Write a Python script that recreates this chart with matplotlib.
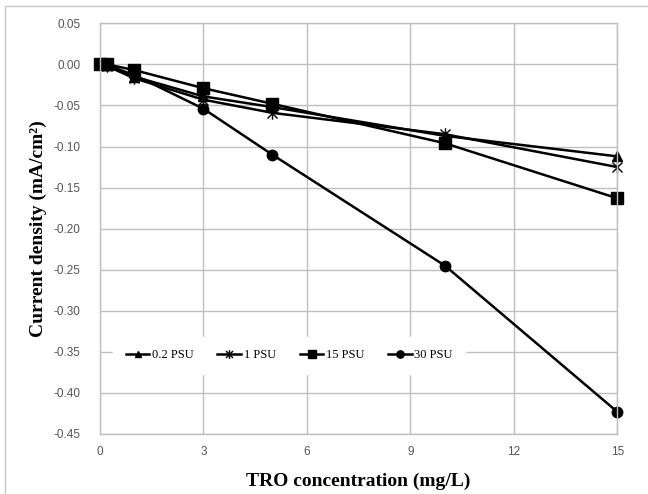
import matplotlib
matplotlib.use("Agg")
from matplotlib import pyplot as plt
from matplotlib.path import Path
from matplotlib.patches import Rectangle

# TRO concentration (mg/L)
tro = [0, 0.2, 1, 3, 5, 10, 15]

# current density (mA/cm2) per salinity
psu_02 = [0, -0.001, -0.015, -0.039, -0.052, -0.087, -0.112]
psu_1 = [0, -0.002, -0.017, -0.043, -0.059, -0.085, -0.125]
psu_15 = [0, 0.0, -0.007, -0.029, -0.048, -0.096, -0.163]
psu_30 = [0, -0.001, -0.013, -0.054, -0.110, -0.245, -0.423]

labels = ["0.2 PSU", "1 PSU", "15 PSU", "30 PSU"]
xticks = [0, 3, 6, 9, 12, 15]
yticks = [0.05, 0.00, -0.05, -0.10, -0.15, -0.20, -0.25, -0.30, -0.35, -0.40, -0.45]

plt.rcParams['font.family'] = ['Liberation Serif', 'DejaVu Serif']

# excel style star: x plus a vertical bar
star = Path([(0, -1), (0, 1), (-0.8, -0.8), (0.8, 0.8), (-0.8, 0.8), (0.8, -0.8)],
            [Path.MOVETO, Path.LINETO, Path.MOVETO, Path.LINETO, Path.MOVETO, Path.LINETO])

fig = plt.figure(figsize=(6.48, 4.94), dpi=100)
ax = fig.add_axes([0.1543, 0.1215, 0.7983, 0.8313])

grid_c = '#bfbfbf'
lw = 1.8
ax.plot(tro, psu_02, color='black', lw=lw, marker='^', ms=7, label=labels[0], clip_on=False)
ax.plot(tro, psu_1, color='black', lw=lw, marker=star, ms=9, mew=1.0,
        mfc='none', mec='black', label=labels[1], clip_on=False)
ax.plot(tro, psu_15, color='black', lw=lw, marker='s', ms=8, label=labels[2], clip_on=False)
ax.plot(tro, psu_30, color='black', lw=lw, marker='o', ms=7.5, label=labels[3], clip_on=False)

ax.set_xlim(0, 15)
ax.set_ylim(-0.45, 0.05)
ax.set_xticks(xticks)
ax.set_yticks(yticks)
ax.set_yticklabels(["%.2f" % v for v in yticks])
for t in ax.get_xticklabels() + ax.get_yticklabels():
    t.set_family(['Liberation Sans', 'DejaVu Sans'])
ax.grid(True, color=grid_c, lw=1)
ax.set_axisbelow(True)
for s in ax.spines.values():
    s.set_color(grid_c)
    s.set_linewidth(1)
ax.tick_params(length=0, labelsize=8.5, labelcolor='#555555')
ax.tick_params(axis='y', pad=14)
ax.tick_params(axis='x', pad=9)

ax.set_xlabel("TRO concentration (mg/L)", fontsize=14, fontweight='bold', labelpad=10)
ax.set_ylabel("Current density (mA/cm²)", fontsize=14, fontweight='bold', labelpad=5)

leg = ax.legend(loc='center', bbox_to_anchor=(0.366, 0.192), ncol=4, frameon=True,
                fontsize=9, handlelength=1.9, handletextpad=0.2, columnspacing=1.9,
                markerscale=0.7, fancybox=False, borderpad=1.0)
leg.get_frame().set_edgecolor('white')
leg.get_frame().set_facecolor('white')
leg.get_frame().set_alpha(1)

fig.patches.append(Rectangle((5 / 648, -0.1), 1.2, 1.1 - 6 / 494, transform=fig.transFigure,
                             fill=False, ec='#c8c8c8', lw=1))

fig.savefig("out.png", dpi=100)
